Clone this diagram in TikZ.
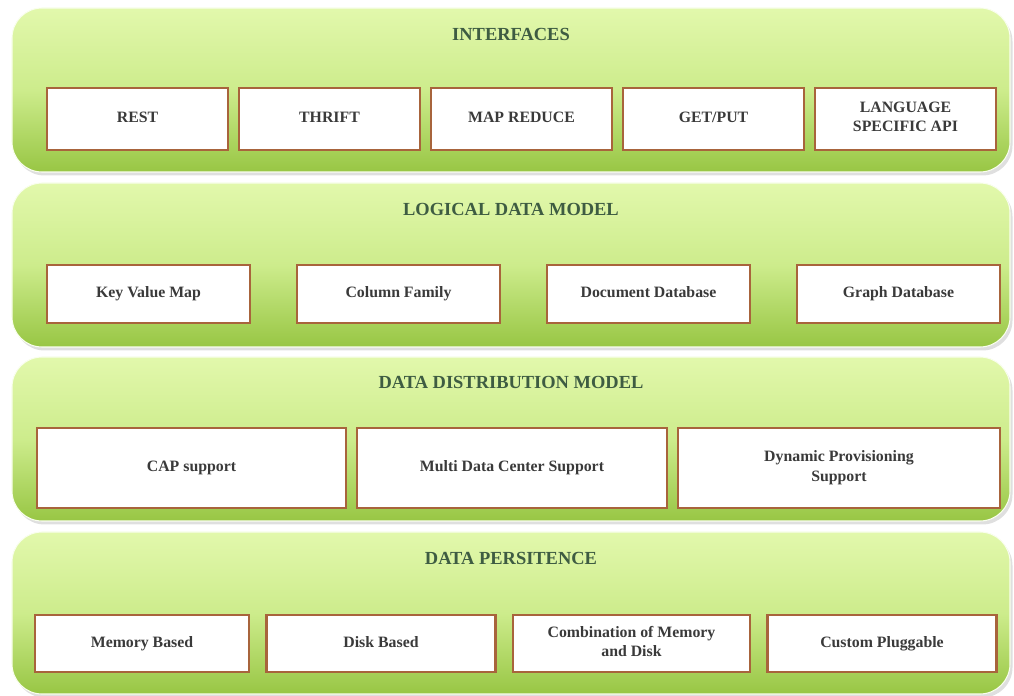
\documentclass[tikz,border=0pt]{standalone}
\usepackage{fontspec}
\setmainfont{Liberation Serif}
\usetikzlibrary{
  positioning,
  shadows,
}
\definecolor{layerlight}{RGB}{226, 248, 172}
\definecolor{layermid}{RGB}{205, 236, 140}
\definecolor{layergreen}{RGB}{152, 198, 68}
\definecolor{boxbrown}{RGB}{168, 100, 60}
\definecolor{titlegreen}{RGB}{62, 92, 66}
\definecolor{boxtext}{RGB}{58, 58, 58}
\tikzstyle{layer} = [
  rectangle,
  rounded corners=0.6cm,
  minimum width=19.96cm,
  minimum height=3.28cm,
  top color=layerlight,
  bottom color=layergreen,
  middle color=layermid,
  draw=white!80!layerlight,
  line width=0.6pt,
  drop shadow={opacity=0.25, shadow xshift=0.05cm, shadow yshift=-0.07cm},
]
\tikzstyle{layertitle} = [
  font=\fontsize{10.5}{12}\selectfont\bfseries,
  text=titlegreen,
]
\tikzstyle{item} = [
  rectangle,
  draw=boxbrown,
  line width=1.6pt,
  fill=white,
  align=center,
  inner sep=2pt,
  outer sep=0pt,
  text depth=0.22em,
  font=\fontsize{9}{11}\selectfont\bfseries,
  text=boxtext,
]
\tikzstyle{ifaceitem} = [item, minimum width=3.62cm, minimum height=1.24cm]
\tikzstyle{logicitem} = [item, minimum width=4.06cm, minimum height=1.16cm]
\tikzstyle{distitem} = [item, minimum width=6.18cm, minimum height=1.6cm]
\tikzstyle{persistitem} = [item, minimum width=4.58cm, minimum height=1.14cm]

\begin{document}
\begin{tikzpicture}
  \useasboundingbox (0,0) rectangle (20.28,-13.92);

  % layers
  \node[layer] (p1) at (10.22,-1.80) {};
  \node[layer] (p2) at (10.22,-5.30) {};
  \node[layer] (p3) at (10.22,-8.78) {};
  \node[layer,minimum height=3.24cm] (p4) at (10.22,-12.26) {};

  \node[layertitle] (t1) at ([yshift=-0.55cm]p1.north) {INTERFACES};
  \node[layertitle] (t2) at ([yshift=-0.55cm]p2.north) {LOGICAL DATA MODEL};
  \node[layertitle] (t3) at ([yshift=-0.53cm]p3.north) {DATA DISTRIBUTION MODEL};
  \node[layertitle] (t4) at ([yshift=-0.55cm]p4.north) {DATA PERSITENCE};

  % interfaces
  \node[ifaceitem,anchor=west] (b1) at (0.94,-2.38) {REST};
  \node[ifaceitem] (b2) [right=0.22cm of b1] {THRIFT};
  \node[ifaceitem] (b3) [right=0.22cm of b2] {MAP REDUCE};
  \node[ifaceitem] (b4) [right=0.22cm of b3] {GET/PUT};
  \node[ifaceitem] (b5) [right=0.22cm of b4] {LANGUAGE\\SPECIFIC API};

  % logical data model
  \node[logicitem,anchor=west] (b6) at (0.94,-5.88) {Key Value Map};
  \node[logicitem] (b7) [right=0.94cm of b6] {Column Family};
  \node[logicitem] (b8) [right=0.94cm of b7] {Document Database};
  \node[logicitem] (b9) [right=0.94cm of b8] {Graph Database};

  % data distribution model
  \node[distitem,anchor=west] (b10) at (0.74,-9.36) {CAP support};
  \node[distitem,minimum width=6.2cm] (b11) [right=0.22cm of b10] {Multi Data Center Support};
  \node[distitem,minimum width=6.44cm] (b12) [right=0.22cm of b11] {Dynamic Provisioning\\Support};

  % data persistence
  \node[persistitem,minimum width=4.28cm,anchor=west] (b13) at (0.70,-12.87) {Memory Based};
  \node[persistitem] (b14) [right=0.35cm of b13] {Disk Based};
  \node[persistitem,minimum width=4.74cm] (b15) [right=0.35cm of b14] {Combination of Memory\\and Disk};
  \node[persistitem] (b16) [right=0.35cm of b15] {Custom Pluggable};
\end{tikzpicture}
\end{document}
